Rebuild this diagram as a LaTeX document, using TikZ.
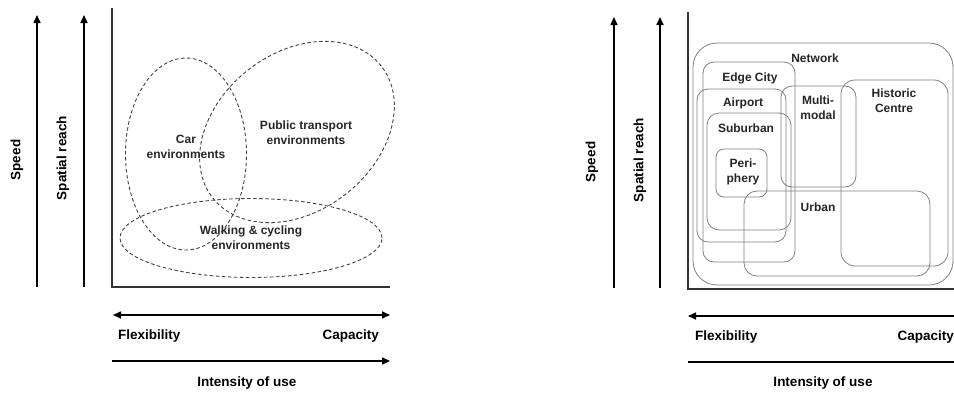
\documentclass[tikz,border=0pt]{standalone}
\usepackage{fontspec}
\setmainfont{Liberation Sans}
\usetikzlibrary{arrows.meta,shapes.geometric}
\begin{document}
\begin{tikzpicture}[x=1pt,y=-1pt,
  arr/.style={line width=1.6pt,-{Triangle[length=8pt,width=7pt]}},
  axisline/.style={line width=1.4pt,draw=black!80},
  dashell/.style={draw=black!75,line width=0.9pt,dash pattern=on 3.5pt off 2.5pt,ellipse,inner sep=0pt},
  axlabel/.style={font=\bfseries\fontsize{13.5}{16}\selectfont,inner sep=0pt},
  inlabel/.style={font=\bfseries\fontsize{12}{15}\selectfont,align=center,inner sep=0pt,text=black!85},
  rbox/.style={draw=black!50,line width=0.8pt}]
\useasboundingbox (0,0) rectangle (954,394);
% ---------- left panel ----------
\coordinate (sA) at (37,287); \coordinate (sB) at (37,15);
\coordinate (rA) at (84,287); \coordinate (rB) at (84,15);
\draw[arr] (sA) -- (sB);
\draw[arr] (rA) -- (rB);
\node[axlabel,rotate=90] (speedL) at (17,160) {Speed};
\node[axlabel,rotate=90] (reachL) at (63,158) {Spatial reach};
\coordinate (oL) at (112,287); \coordinate (tL) at (112,8); \coordinate (xL) at (390,287);
\draw[axisline] (tL) -- (oL) -- (xL);
\coordinate (dA) at (113,315); \coordinate (dB) at (390,315);
\draw[line width=1.6pt,{Triangle[length=8pt,width=7pt]}-{Triangle[length=8pt,width=7pt]}] (dA) -- (dB);
\node[axlabel,anchor=west] (flexL) at (118,336) {Flexibility};
\node[axlabel,anchor=east] (capL) at (379,336) {Capacity};
\coordinate (iA) at (112,361); \coordinate (iB) at (390,361);
\draw[arr] (iA) -- (iB);
\node[axlabel] (intL) at (247,383) {Intensity of use};
% ellipses
\node[dashell,minimum width=121pt,minimum height=192pt] (car) at (186,154) {};
\node[dashell,minimum width=214pt,minimum height=158pt,rotate=38] (pt) at (297,132) {};
\node[dashell,minimum width=262pt,minimum height=79pt] (walk) at (251,238) {};
\node[inlabel] (carT) at (186,147) {Car\\environments};
\node[inlabel] (ptT) at (306,133) {Public transport\\environments};
\node[inlabel] (walkT) at (251,238) {Walking \& cycling\\environments};
% ---------- right panel ----------
\coordinate (s2A) at (614,288); \coordinate (s2B) at (614,17);
\coordinate (r2A) at (660,288); \coordinate (r2B) at (660,17);
\draw[arr] (s2A) -- (s2B);
\draw[arr] (r2A) -- (r2B);
\node[axlabel,rotate=90] (speedR) at (592,162) {Speed};
\node[axlabel,rotate=90] (reachR) at (640,160) {Spatial reach};
\coordinate (oR) at (688,289); \coordinate (tR) at (688,12); \coordinate (xR) at (954,289);
\draw[axisline] (tR) -- (oR) -- (xR);
\coordinate (d2A) at (688,316); \coordinate (d2B) at (954,316);
\draw[line width=1.6pt,{Triangle[length=8pt,width=7pt]}-] (d2A) -- (d2B);
\node[axlabel,anchor=west] (flexR) at (695,337) {Flexibility};
\node[axlabel,anchor=east] (capR) at (954,337) {Capacity};
\coordinate (i2A) at (688,362); \coordinate (i2B) at (954,362);
\draw[line width=1.6pt] (i2A) -- (i2B);
\node[axlabel] (intR) at (823,383) {Intensity of use};
% rounded boxes
\draw[rbox,rounded corners=24pt] (693,43) rectangle (953,285);
\draw[rbox,rounded corners=11pt] (703,62) rectangle (795,262);
\draw[rbox,rounded corners=11pt] (697,89) rectangle (786,242);
\draw[rbox,rounded corners=12pt] (707,113) rectangle (791,230);
\draw[rbox,rounded corners=8pt] (716,149) rectangle (767,197);
\draw[rbox,rounded corners=11pt] (781,86) rectangle (856,187);
\draw[rbox,rounded corners=14pt] (841,80) rectangle (948,266);
\draw[rbox,rounded corners=13pt] (744,191) rectangle (930,276);
\node[inlabel] (netT) at (815,58) {Network};
\node[inlabel] (edgeT) at (750,78) {Edge City};
\node[inlabel] (airT) at (743,103) {Airport};
\node[inlabel] (subT) at (746,128) {Suburban};
\node[inlabel] (perT) at (743,172) {Peri-\\phery};
\node[inlabel] (multT) at (818,108) {Multi-\\modal};
\node[inlabel] (histT) at (894,101) {Historic\\Centre};
\node[inlabel] (urbT) at (818,207) {Urban};
\end{tikzpicture}
\end{document}
